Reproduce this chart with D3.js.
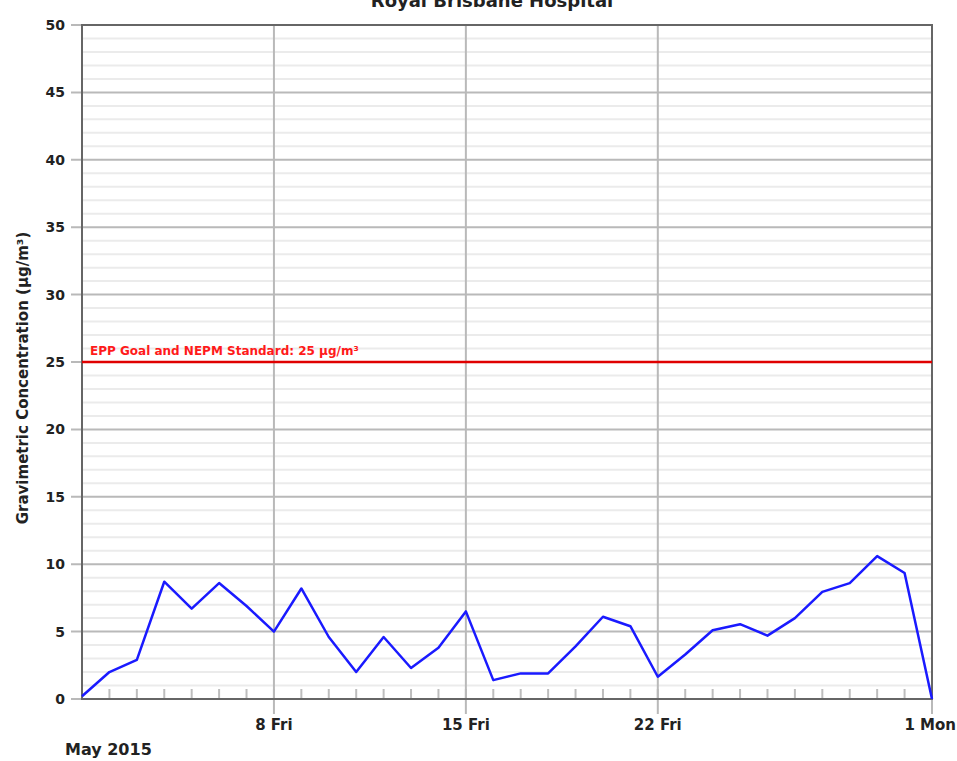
<!DOCTYPE html>
<html>
<head>
<meta charset="utf-8">
<script src="https://cdn.jsdelivr.net/npm/d3@7"></script>
<style>
  body { margin: 0; background: #fff; }
  svg text { font-family: "DejaVu Sans", Verdana, sans-serif; }
</style>
</head>
<body>
<div class="chart"></div>
<script>
// daily PM2.5 values, 1 May 2015 .. 1 June 2015
var startDate = new Date(2015, 4, 1);
var values = [0.2, 2.0, 2.9, 8.7, 6.7, 8.6, 6.9, 5.0, 8.2, 4.6, 2.0, 4.6, 2.3, 3.8, 6.5, 1.4,
    1.9, 1.9, 3.9, 6.1, 5.4, 1.65, 3.3, 5.1, 5.55, 4.7, 6.0, 7.95, 8.6, 10.6, 9.35, 0];
var yTicks = [0, 5, 10, 15, 20, 25, 30, 35, 40, 45, 50];
var xTickDates = [new Date(2015, 4, 8), new Date(2015, 4, 15), new Date(2015, 4, 22), new Date(2015, 5, 1)];
var xTickLabels = ['8 Fri', '15 Fri', '22 Fri', '1 Mon'];
var standard = 25;
var standardLabel = 'EPP Goal and NEPM Standard: 25 µg/m³';
var title = 'Royal Brisbane Hospital';
var yLabel = 'Gravimetric Concentration (µg/m³)';
var monthLabel = 'May 2015';

var margin = { top: 25, right: 25, bottom: 62, left: 82 };
var width = 957 - margin.left - margin.right;
var height = 761 - margin.top - margin.bottom;

var data = values.map((v, i) => ({ date: d3.timeDay.offset(startDate, i), value: v }));

var root = d3.select('.chart')
    .append('svg')
    .attr('width', 957)
    .attr('height', 761);

var svg = root.append('g')
    .attr('transform', 'translate(' + margin.left + ', ' + margin.top + ')');

var xScale = d3.scaleTime()
    .domain([startDate, new Date(2015, 5, 1)])
    .range([0, width]);

var yScale = d3.scaleLinear()
    .domain([0, 50])
    .range([height, 0]);

// minor horizontal grid
svg.append('g')
    .selectAll('line')
    .data(d3.range(1, 50).filter(d => d % 5 !== 0))
    .enter()
    .append('line')
    .attr('x1', 0).attr('x2', width)
    .attr('y1', d => yScale(d)).attr('y2', d => yScale(d))
    .attr('stroke', '#ebebeb')
    .attr('stroke-width', 2);

// major horizontal grid + ticks
svg.append('g')
    .selectAll('line')
    .data(yTicks)
    .enter()
    .append('line')
    .attr('x1', -11).attr('x2', width)
    .attr('y1', d => yScale(d)).attr('y2', d => yScale(d))
    .attr('stroke', '#b9b9b9')
    .attr('stroke-width', 2);

// daily minor ticks
svg.append('g')
    .selectAll('line')
    .data(d3.timeDay.range(d3.timeDay.offset(startDate, 1), new Date(2015, 5, 1)))
    .enter()
    .append('line')
    .attr('x1', d => xScale(d)).attr('x2', d => xScale(d))
    .attr('y1', height - 10).attr('y2', height)
    .attr('stroke', '#bdbdbd')
    .attr('stroke-width', 2);

// weekly vertical grid
svg.append('g')
    .selectAll('line')
    .data(xTickDates)
    .enter()
    .append('line')
    .attr('x1', d => xScale(d)).attr('x2', d => xScale(d))
    .attr('y1', 0).attr('y2', height + 15)
    .attr('stroke', '#b9b9b9')
    .attr('stroke-width', 2);

// frame
svg.append('rect')
    .attr('x', 0).attr('y', 0)
    .attr('width', width).attr('height', height)
    .attr('fill', 'none')
    .attr('stroke', '#666')
    .attr('stroke-width', 2);

// y tick labels
svg.append('g')
    .selectAll('text')
    .data(yTicks)
    .enter()
    .append('text')
    .attr('x', -17)
    .attr('y', d => yScale(d) + 5)
    .attr('text-anchor', 'end')
    .style('font-size', '14px')
    .style('font-weight', 'bold')
    .style('fill', '#222')
    .text(d => d);

// x tick labels (last one kept inside the page)
svg.append('g')
    .selectAll('text')
    .data(xTickDates)
    .enter()
    .append('text')
    .attr('x', (d, i) => i === xTickDates.length - 1 ? width + margin.right - 1 : xScale(d))
    .attr('y', height + 31)
    .attr('text-anchor', (d, i) => i === xTickDates.length - 1 ? 'end' : 'middle')
    .style('font-size', '15px')
    .style('font-weight', 'bold')
    .style('fill', '#222')
    .text((d, i) => xTickLabels[i]);

// standard line
svg.append('line')
    .attr('x1', 0).attr('x2', width)
    .attr('y1', yScale(standard)).attr('y2', yScale(standard))
    .attr('stroke', '#e00000')
    .attr('stroke-width', 2.5);

svg.append('text')
    .attr('x', 8)
    .attr('y', yScale(standard) - 7)
    .style('font-size', '12px')
    .style('font-weight', 'bold')
    .style('fill', '#ff1a1a')
    .text(standardLabel);

// data line
var line = d3.line()
    .x(d => xScale(d.date))
    .y(d => yScale(d.value));

svg.append('path')
    .datum(data)
    .attr('d', line)
    .attr('fill', 'none')
    .attr('stroke', '#1a1aff')
    .attr('stroke-width', 2.5)
    .attr('stroke-linejoin', 'round');

// titles
root.append('text')
    .attr('x', 492)
    .attr('y', 7)
    .attr('text-anchor', 'middle')
    .style('font-size', '18px')
    .style('font-weight', 'bold')
    .style('fill', '#222')
    .text(title);

root.append('text')
    .attr('transform', 'translate(28, ' + (margin.top + yScale(25) + 16) + ') rotate(-90)')
    .attr('text-anchor', 'middle')
    .style('font-size', '15px')
    .style('font-weight', 'bold')
    .style('fill', '#222')
    .text(yLabel);

root.append('text')
    .attr('x', 65)
    .attr('y', 755)
    .style('font-size', '16px')
    .style('font-weight', 'bold')
    .style('fill', '#222')
    .text(monthLabel);
</script>
</body>
</html>
